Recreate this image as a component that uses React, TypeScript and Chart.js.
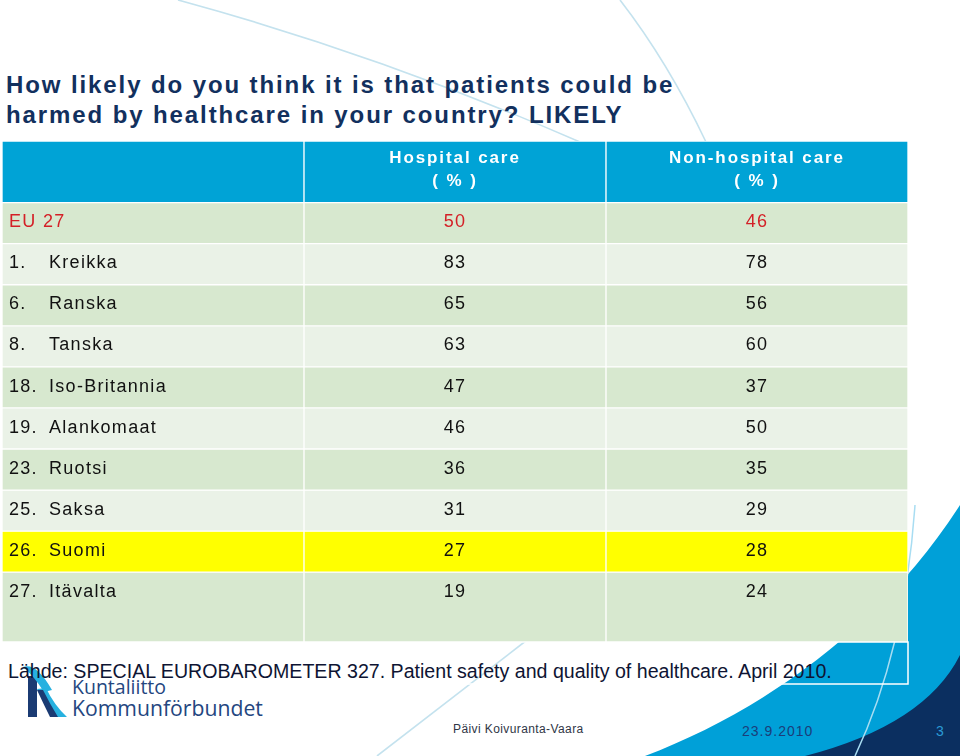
import React, { useEffect, useRef } from "react";
import { Chart, registerables } from "chart.js";

Chart.register(...registerables);

// ---------- data ----------
const TITLE_LINES = [
  "How likely do you think it is that patients could be",
  "harmed by healthcare in your country? LIKELY",
];
const COLUMN_KEYS = ["country", "hospital", "nonHospital"];
const COLUMN_HEADERS = ["", "Hospital care", "Non-hospital care"];
const COLUMN_UNITS = ["", "( % )", "( % )"];
const RANKS = ["", "1.", "6.", "8.", "18.", "19.", "23.", "25.", "26.", "27."];
const COUNTRIES = [
  "EU 27",
  "Kreikka",
  "Ranska",
  "Tanska",
  "Iso-Britannia",
  "Alankomaat",
  "Ruotsi",
  "Saksa",
  "Suomi",
  "Itävalta",
];
const HOSPITAL = [50, 83, 65, 63, 47, 46, 36, 31, 27, 19];
const NON_HOSPITAL = [46, 78, 56, 60, 37, 50, 35, 29, 28, 24];
const REFERENCE_ROW = "EU 27";
const HIGHLIGHT_ROW = "Suomi";
const SOURCE =
  "Lähde: SPECIAL EUROBAROMETER 327. Patient safety and quality of healthcare. April 2010.";
const AUTHOR = "Päivi Koivuranta-Vaara";
const DATE = "23.9.2010";
const PAGE = "3";

// ---------- layout (row heights in row units) ----------
const HEADER_UNITS = 1.5;
const ROW_UNITS = 1;
const LAST_ROW_EXTRA = 0.7;

const HEADER_BLUE = "#00A3D6";
const ROW_DARK = "#D7E8CF";
const ROW_LIGHT = "#EAF2E7";
const ROW_YELLOW = "#FFFF00";
const RED = "#D42027";
const NAVY = "#12305E";

const LAST = COUNTRIES.length - 1;
const rowStart = (i: number) => HEADER_UNITS + i * ROW_UNITS;
const rowEnd = (i: number) => rowStart(i) + ROW_UNITS + (i === LAST ? LAST_ROW_EXTRA : 0);
const Y_MAX = rowEnd(LAST);

const rowColor = (i: number) =>
  COUNTRIES[i] === HIGHLIGHT_ROW
    ? ROW_YELLOW
    : i % 2 === 0 || i === LAST
    ? ROW_DARK
    : ROW_LIGHT;

const tableTextPlugin = {
  id: "tableText",
  afterDatasetsDraw(chart: any) {
    const { ctx } = chart;
    const xs = chart.scales.x;
    const ys = chart.scales.y;
    const colW = xs.getPixelForValue(1) - xs.getPixelForValue(0);
    const colLeft = (c: number) => xs.getPixelForValue(c) - colW / 2;
    ctx.save();
    // header
    const hTop = ys.getPixelForValue(0);
    const hBot = ys.getPixelForValue(HEADER_UNITS);
    const hMid = (hTop + hBot) / 2;
    ctx.fillStyle = "#FFFFFF";
    ctx.font = "bold 17px 'Liberation Sans', Arial, sans-serif";
    ctx.textAlign = "center";
    ctx.textBaseline = "middle";
    (ctx as any).letterSpacing = "1.9px";
    for (let c = 1; c < COLUMN_HEADERS.length; c++) {
      const cx = xs.getPixelForValue(c);
      ctx.fillText(COLUMN_HEADERS[c], cx, hMid - 13);
      ctx.fillText(COLUMN_UNITS[c], cx, hMid + 10);
    }
    // rows
    ctx.font = "18px 'Liberation Sans', Arial, sans-serif";
    (ctx as any).letterSpacing = "1.3px";
    for (let i = 0; i < COUNTRIES.length; i++) {
      const yMid = ys.getPixelForValue(rowStart(i) + 0.48);
      ctx.fillStyle = COUNTRIES[i] === REFERENCE_ROW ? RED : "#111111";
      ctx.textAlign = "left";
      if (RANKS[i]) {
        ctx.fillText(RANKS[i], colLeft(0) + 7, yMid);
        ctx.fillText(COUNTRIES[i], colLeft(0) + 47, yMid);
      } else {
        ctx.fillText(COUNTRIES[i], colLeft(0) + 7, yMid);
      }
      ctx.textAlign = "center";
      ctx.fillText(String(HOSPITAL[i]), xs.getPixelForValue(1), yMid);
      ctx.fillText(String(NON_HOSPITAL[i]), xs.getPixelForValue(2), yMid);
    }
    ctx.restore();
  },
};

function TableChart() {
  const ref = useRef<HTMLCanvasElement | null>(null);
  useEffect(() => {
    if (!ref.current) return;
    const cellRange = (a: number, b: number) => COLUMN_KEYS.map(() => [a, b]);
    const datasets: any[] = [
      {
        label: "header",
        data: cellRange(0, HEADER_UNITS),
        backgroundColor: HEADER_BLUE,
      },
      ...COUNTRIES.map((name, i) => ({
        label: name,
        data: cellRange(rowStart(i), rowEnd(i)),
        backgroundColor: rowColor(i),
      })),
    ].map((d) => ({
      ...d,
      grouped: false,
      barPercentage: 1,
      categoryPercentage: 1,
      borderWidth: 1,
      borderColor: "#FFFFFF",
      borderSkipped: false,
    }));
    const chart = new Chart(ref.current, {
      type: "bar",
      data: { labels: COLUMN_KEYS, datasets },
      options: {
        animation: false,
        responsive: false,
        maintainAspectRatio: false,
        layout: { padding: 0 },
        scales: {
          x: { type: "category", display: false, offset: true },
          y: { type: "linear", min: 0, max: Y_MAX, reverse: true, display: false },
        },
        plugins: {
          legend: { display: false },
          tooltip: { enabled: false },
          title: { display: false },
        },
      },
      plugins: [tableTextPlugin],
    } as any);
    return () => chart.destroy();
  }, []);
  return (
    <canvas
      ref={ref}
      width={906}
      height={501}
      style={{ position: "absolute", left: 2, top: 141, width: 906, height: 501, zIndex: 1 }}
    />
  );
}

export default function App() {
  const abs = (s: React.CSSProperties): React.CSSProperties => ({
    position: "absolute",
    whiteSpace: "nowrap",
    zIndex: 2,
    ...s,
  });
  return (
    <div
      style={{
        position: "relative",
        width: 960,
        height: 756,
        overflow: "hidden",
        background: "#FFFFFF",
        fontFamily: "'Liberation Sans', Arial, sans-serif",
      }}
    >
      <style>{`body{margin:0}`}</style>
      <svg
        width={960}
        height={756}
        style={{ position: "absolute", left: 0, top: 0, zIndex: 0 }}
      >
        <g fill="none" stroke="#C4E2EE" strokeWidth={1.6}>
          <path d="M178,0 Q380,55 580,142" />
          <path d="M620,0 Q668,62 706,142" />
          <path d="M377,756 L527,640" />
        </g>
        <path d="M645,756 C760,712 880,630 960,505 L960,756 Z" fill="#00A0D8" />
        <path d="M805,756 Q925,725 960,655 L960,756 Z" fill="#0B2F60" />
        <path d="M855,756 Q905,650 915,505" fill="none" stroke="#A8DDF2" strokeWidth={1.5} />
        <rect x={2} y={642} width={906} height={42} fill="none" stroke="#FFFFFF" strokeWidth={1.5} />
        {/* logo mark */}
        <rect x={28} y={676} width={9} height={41} fill="#1B3B73" />
        <path d="M23,667 Q36,662 52,690 L44,692 Q34,676 23,667 Z" fill="#27B1E0" />
        <path d="M37,689 L46,688 Q54,705 67,717 L56,717 Q45,705 37,689 Z" fill="#27B1E0" />
        <path d="M37,690 L43,690 Q50,704 58,717 L50,717 Q44,705 37,690 Z" fill="#1B3B73" />
      </svg>
      {TITLE_LINES.map((t, i) => (
        <div
          key={i}
          style={abs({
            left: 6,
            top: 72 + i * 30,
            fontSize: 24,
            lineHeight: "26px",
            fontWeight: "bold",
            letterSpacing: "1.9px",
            color: NAVY,
          })}
        >
          {t}
        </div>
      ))}
      <TableChart />
      <div
        style={abs({
          left: 72,
          top: 677,
          fontFamily: "'Open Sans', sans-serif",
          fontSize: 19.5,
          lineHeight: "20px",
          color: "#24467F",
        })}
      >
        Kuntaliitto
      </div>
      <div
        style={abs({
          left: 72,
          top: 697,
          fontFamily: "'Open Sans', sans-serif",
          fontSize: 21.2,
          lineHeight: "22px",
          color: "#24467F",
        })}
      >
        Kommunförbundet
      </div>
      <div
        style={abs({
          left: 8,
          top: 660,
          fontSize: 19.6,
          lineHeight: "22px",
          color: "#0E1433",
          zIndex: 3,
        })}
      >
        {SOURCE}
      </div>
      <div
        style={abs({
          left: 453,
          top: 722,
          fontSize: 12,
          lineHeight: "14px",
          letterSpacing: "0.4px",
          color: "#2F3646",
        })}
      >
        {AUTHOR}
      </div>
      <div
        style={abs({
          left: 742,
          top: 723,
          fontSize: 14,
          lineHeight: "16px",
          letterSpacing: "1px",
          color: "#1B3D7A",
        })}
      >
        {DATE}
      </div>
      <div
        style={abs({
          left: 936,
          top: 723,
          fontSize: 14,
          lineHeight: "16px",
          color: "#2A9AD6",
        })}
      >
        {PAGE}
      </div>
    </div>
  );
}
